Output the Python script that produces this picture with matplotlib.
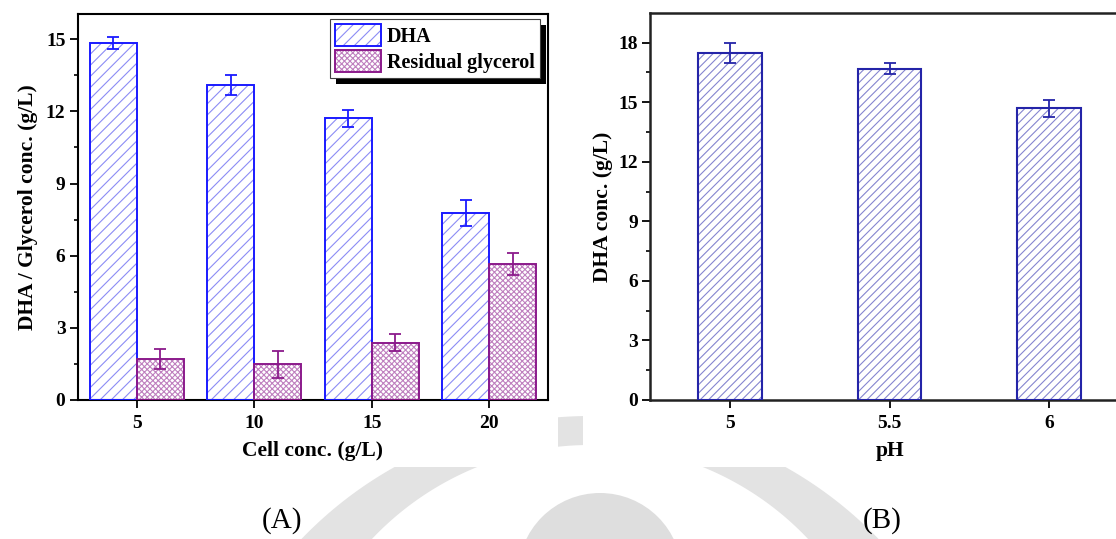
import numpy as np
import matplotlib
matplotlib.use("Agg")
import matplotlib.pyplot as plt
from matplotlib.patches import Rectangle, Circle, PathPatch
from matplotlib.path import Path
from matplotlib.ticker import MultipleLocator

# ---- data -------------------------------------------------------------
cell_conc = [5, 10, 15, 20]
dha_cell = [14.85, 13.1, 11.72, 7.78]
dha_cell_err = [0.25, 0.43, 0.35, 0.55]
glycerol_cell = [1.7, 1.48, 2.38, 5.65]
glycerol_cell_err = [0.42, 0.55, 0.35, 0.45]

ph_values = [5, 5.5, 6]
ph_labels = ["5", "5.5", "6"]
dha_ph = [17.5, 16.68, 14.7]
dha_ph_err = [0.5, 0.28, 0.43]

# ---- style ------------------------------------------------------------
plt.rcParams["font.family"] = ["Liberation Serif", "DejaVu Serif"]
plt.rcParams["font.weight"] = "bold"
plt.rcParams["hatch.linewidth"] = 0.8

W, H = 1116, 539
fig = plt.figure(figsize=(W / 100, H / 100), dpi=100)

# background seal (faint grey) in pixel coordinates
bg = fig.add_axes([0, 0, 1, 1], zorder=-10)
bg.set_xlim(0, W)
bg.set_ylim(H, 0)
bg.axis("off")
t = np.linspace(0, 2 * np.pi, 400)
outer = np.c_[590 + 400 * np.cos(t), 816 + 400 * np.sin(t)]
inner = np.c_[590 + 300 * np.cos(t[::-1]), 745 + 300 * np.sin(t[::-1])]
ring = Path(np.vstack([outer, inner]),
            [Path.MOVETO] + [Path.LINETO] * 399 + [Path.MOVETO] + [Path.LINETO] * 399)
bg.add_patch(PathPatch(ring, facecolor="#e3e3e3", edgecolor="none"))
bg.add_patch(Circle((600, 575), 82, facecolor="#dedede", edgecolor="none"))
# white panels carrying the two charts
bg.add_patch(Rectangle((0, 0), 558, 467, facecolor="white", edgecolor="none"))
bg.add_patch(Rectangle((583, 0), W - 583, 467, facecolor="white", edgecolor="none"))

tick_kw = dict(direction="out", width=1.3, labelsize=14)
label_kw = dict(fontsize=15.5, fontweight="bold")

# ---- panel A ----------------------------------------------------------
axA = fig.add_axes([78 / W, 1 - 400 / H, 470 / W, 386 / H])
x = np.array(cell_conc, dtype=float)
bw = 2.0
hA = axA.bar(x - bw / 2, dha_cell, bw, facecolor="white", edgecolor="#8c8cf5",
             hatch="///", linewidth=0, zorder=2)
oA = axA.bar(x - bw / 2, dha_cell, bw, facecolor="none", edgecolor="#1a1aff",
             linewidth=1.4, zorder=3)
axA.errorbar(x - bw / 2, dha_cell, yerr=dha_cell_err, fmt="none", ecolor="#1a1aff",
             elinewidth=1.3, capsize=4, capthick=1.3, zorder=4)
hG = axA.bar(x + bw / 2, glycerol_cell, bw, facecolor="white", edgecolor="#bf80bf",
             hatch="xxxxxx", linewidth=0, zorder=2)
oG = axA.bar(x + bw / 2, glycerol_cell, bw, facecolor="none", edgecolor="#8b1a8b",
             linewidth=1.4, zorder=3)
axA.errorbar(x + bw / 2, glycerol_cell, yerr=glycerol_cell_err, fmt="none",
             ecolor="#8b1a8b", elinewidth=1.3, capsize=4, capthick=1.3, zorder=4)

axA.set_xlim(2.5, 22.5)
axA.set_ylim(0, 16.05)
axA.set_xticks(cell_conc)
axA.yaxis.set_major_locator(MultipleLocator(3))
axA.yaxis.set_minor_locator(MultipleLocator(1.5))
axA.tick_params(axis="both", which="major", length=5.5, **tick_kw)
axA.tick_params(axis="y", which="minor", length=3, width=1.2, direction="out")
axA.tick_params(axis="x", pad=5)
for s in axA.spines.values():
    s.set_linewidth(1.5)
axA.set_xlabel("Cell conc. (g/L)", labelpad=7, **label_kw)
axA.set_ylabel("DHA / Glycerol conc. (g/L)", labelpad=6, **label_kw)

leg = axA.legend([(hA[0], oA[0]), (hG[0], oG[0])], ["DHA", "Residual glycerol"],
                 loc="upper right", bbox_to_anchor=(0.983, 0.987),
                 prop={"weight": "bold", "size": 14.5}, handlelength=2.3,
                 handleheight=1.3, handletextpad=0.3, borderpad=0.25,
                 labelspacing=0.15, fancybox=False, framealpha=1,
                 edgecolor="#404040", borderaxespad=0)
leg.get_frame().set_linewidth(0.8)
leg.set_zorder(6)

# ---- panel B ----------------------------------------------------------
axB = fig.add_axes([650.4 / W, 1 - 400 / H, 478.3 / W, 386.7 / H])
xb = np.array(ph_values, dtype=float)
axB.bar(xb, dha_ph, 0.2, facecolor="white", edgecolor="#8585d0", hatch="////",
        linewidth=0, zorder=2)
axB.bar(xb, dha_ph, 0.2, facecolor="none", edgecolor="#2424a8", linewidth=1.5,
        zorder=3)
axB.errorbar(xb, dha_ph, yerr=dha_ph_err, fmt="none", ecolor="#2424a8",
             elinewidth=1.3, capsize=4, capthick=1.3, zorder=4)
axB.set_xlim(4.75, 6.25)
axB.set_ylim(0, 19.48)
axB.set_xticks(ph_values)
axB.set_xticklabels(ph_labels)
axB.yaxis.set_major_locator(MultipleLocator(3))
axB.yaxis.set_minor_locator(MultipleLocator(1.5))
axB.tick_params(axis="both", which="major", length=5.5, **tick_kw)
axB.tick_params(axis="y", which="minor", length=3, width=1.2, direction="out")
axB.tick_params(axis="x", pad=5)
for s in axB.spines.values():
    s.set_linewidth(1.8)
    s.set_color("#222222")
axB.set_xlabel("pH", labelpad=7, **label_kw)
axB.set_ylabel("DHA conc. (g/L)", labelpad=4, **label_kw)

# panel captions
fig.text(282 / W, 1 - 521 / H, "(A)", fontsize=21, fontweight="normal",
         ha="center", va="center")
fig.text(882 / W, 1 - 521 / H, "(B)", fontsize=21, fontweight="normal",
         ha="center", va="center")

# black drop shadow behind the legend
fig.canvas.draw()
bb = leg.get_window_extent()
off = 6
inv = axA.transAxes.inverted()
(x0, y0) = inv.transform((bb.x0 + off, bb.y0 - off))
(x1, y1) = inv.transform((bb.x1 + off, bb.y1 - off))
axA.add_patch(Rectangle((x0, y0), x1 - x0, y1 - y0, transform=axA.transAxes,
                        facecolor="black", edgecolor="none", zorder=5,
                        clip_on=False))

fig.savefig("out.png", dpi=100)
